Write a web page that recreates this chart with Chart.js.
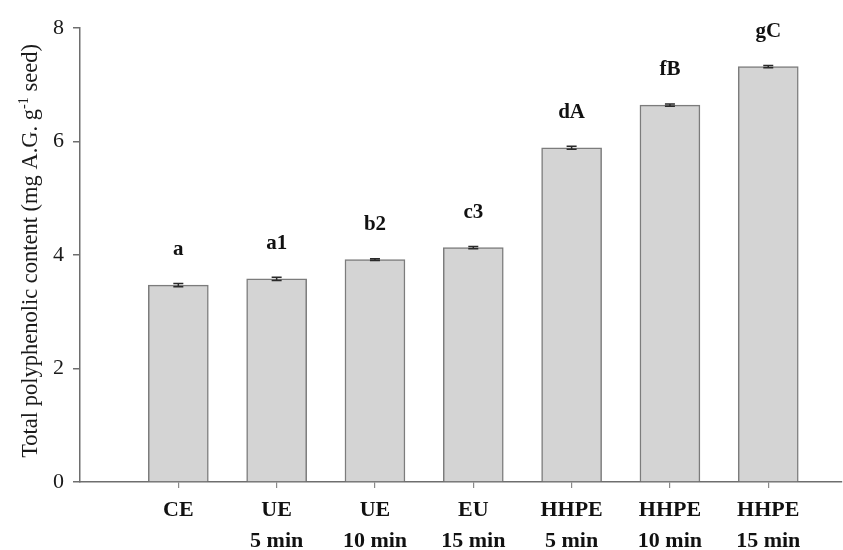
<!DOCTYPE html>
<html>
<head>
<meta charset="utf-8">
<script src="https://cdn.jsdelivr.net/npm/chart.js@4.4.1/dist/chart.umd.min.js"></script>
<style>
  html, body { margin: 0; padding: 0; background: #ffffff; }
  #wrap { width: 843px; height: 550px; }
</style>
</head>
<body>
<div id="wrap"><canvas id="c" width="843" height="550"></canvas></div>
<script>
// Extraction methods and their total polyphenolic content
const categories = [
  ['CE'],
  ['UE', '5 min'],
  ['UE', '10 min'],
  ['EU', '15 min'],
  ['HHPE', '5 min'],
  ['HHPE', '10 min'],
  ['HHPE', '15 min']
];
const values = [3.47, 3.58, 3.92, 4.13, 5.89, 6.64, 7.32];
const errors = [0.03, 0.03, 0.015, 0.02, 0.025, 0.02, 0.02];
const letters = ['a', 'a1', 'b2', 'c3', 'dA', 'fB', 'gC'];
const yTicks = [0, 2, 4, 6, 8];

const SERIF = '"Liberation Serif", "Times New Roman", serif';

// Error caps and significance letters on top of each bar
const barExtras = {
  id: 'barExtras',
  afterDatasetsDraw(chart) {
    const ctx = chart.ctx;
    const xs = chart.scales.x, ys = chart.scales.y;
    ctx.save();
    values.forEach((v, i) => {
      const px = xs.getPixelForValue(i + 1);
      const hi = ys.getPixelForValue(v + errors[i]);
      const lo = ys.getPixelForValue(v - errors[i]);
      ctx.strokeStyle = '#2a2a2a';
      ctx.lineWidth = 1.5;
      ctx.beginPath();
      ctx.moveTo(px, hi); ctx.lineTo(px, lo);
      ctx.moveTo(px - 5, hi); ctx.lineTo(px + 5, hi);
      ctx.moveTo(px - 5, lo); ctx.lineTo(px + 5, lo);
      ctx.stroke();
      ctx.fillStyle = '#111';
      ctx.font = 'bold 21px ' + SERIF;
      ctx.textAlign = 'center';
      ctx.textBaseline = 'alphabetic';
      ctx.fillText(letters[i], px, ys.getPixelForValue(v) - 30);
    });
    ctx.restore();
  }
};

// Vertical axis title with a superscript exponent
const yTitle = {
  id: 'yTitle',
  afterDraw(chart) {
    const ctx = chart.ctx;
    const area = chart.chartArea;
    const parts = [
      { t: 'Total polyphenolic content (mg A.G. g', sup: false },
      { t: '-1', sup: true },
      { t: ' seed)', sup: false }
    ];
    const base = '22.5px ' + SERIF, small = '14px ' + SERIF;
    ctx.save();
    let total = 0;
    parts.forEach(p => { ctx.font = p.sup ? small : base; p.w = ctx.measureText(p.t).width; total += p.w; });
    ctx.translate(37, (area.top + area.bottom) / 2 - 4);
    ctx.rotate(-Math.PI / 2);
    ctx.fillStyle = '#1a1a1a';
    ctx.textBaseline = 'alphabetic';
    ctx.textAlign = 'left';
    let x = -total / 2;
    parts.forEach(p => {
      ctx.font = p.sup ? small : base;
      ctx.fillText(p.t, x, p.sup ? -9 : 0);
      x += p.w;
    });
    ctx.restore();
  }
};

new Chart(document.getElementById('c'), {
  type: 'bar',
  data: {
    datasets: [{
      data: values.map((v, i) => ({ x: i + 1, y: v })),
      backgroundColor: '#d4d4d4',
      borderColor: '#7c7c7c',
      borderWidth: 1.5,
      borderSkipped: 'start',
      barThickness: 60
    }]
  },
  options: {
    responsive: false,
    animation: false,
    layout: { padding: { top: 28, right: 1, left: 0, bottom: 0 } },
    plugins: { legend: { display: false }, tooltip: { enabled: false } },
    scales: {
      x: {
        type: 'linear',
        offset: false,
        min: 0,
        max: 7.75,
        afterBuildTicks(scale) { scale.ticks = categories.map((_, i) => ({ value: i + 1 })); },
        afterFit(scale) { scale.height = 68; },
        ticks: {
          callback: (v) => categories[v - 1] || '',
          color: '#111',
          font: { family: SERIF, size: 22, weight: 'bold', lineHeight: 1.4 },
          padding: 7,
          maxRotation: 0,
          autoSkip: false
        },
        grid: { display: true, offset: false, drawOnChartArea: false, drawTicks: true, tickLength: 6, color: '#8a8a8a', lineWidth: 1.2 },
        border: { display: true, color: '#6e6e6e', width: 1.5 }
      },
      y: {
        min: 0,
        max: 8,
        afterBuildTicks(scale) { scale.ticks = yTicks.map(v => ({ value: v })); },
        afterFit(scale) { scale.width = 80; },
        ticks: {
          color: '#1a1a1a',
          font: { family: SERIF, size: 22 },
          padding: 9
        },
        grid: { display: true, drawOnChartArea: false, drawTicks: true, tickLength: 7, color: '#6e6e6e', lineWidth: 1.5 },
        border: { display: true, color: '#6e6e6e', width: 1.5 }
      }
    }
  },
  plugins: [barExtras, yTitle]
});
</script>
</body>
</html>
